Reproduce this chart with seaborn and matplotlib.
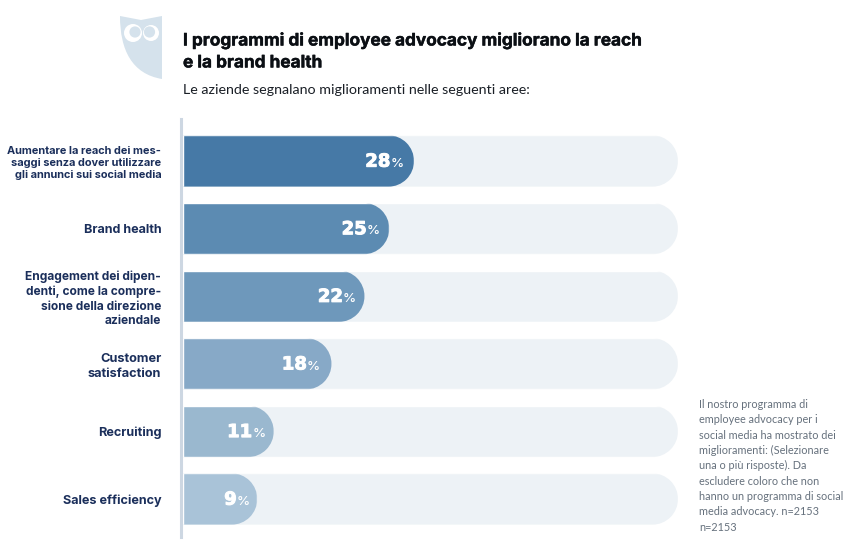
import matplotlib
matplotlib.use("Agg")
import matplotlib.pyplot as plt
import matplotlib.patheffects as pe
import seaborn as sns
import pandas as pd
from matplotlib.patches import PathPatch, Circle, Polygon
from matplotlib.path import Path
from matplotlib.transforms import IdentityTransform, Affine2D

categories = [
    "Aumentare la reach dei mes-\nsaggi senza dover utilizzare\ngli annunci sui social media",
    "Brand health",
    "Engagement dei dipen-\ndenti, come la compre-\nsione della direzione\naziendale",
    "Customer\nsatisfaction",
    "Recruiting",
    "Sales efficiency",
]
values = [28, 25, 22, 18, 11, 9]
track_values = [60, 60, 60, 60, 60, 60]
bar_colors = ["#4679A6", "#5C8BB2", "#6E98BB", "#87A9C7", "#9AB8CF", "#A9C3D8"]
label_sizes = [7.9, 9.1, 8.6, 9.2, 9.1, 9.1]
label_shift_pt = [0, 0.7, 1.4, -0.7, 1.4, 2.2]
title = "I programmi di employee advocacy migliorano la reach\ne la brand health"
subtitle = "Le aziende segnalano miglioramenti nelle seguenti aree:"
note = ("Il nostro programma di\nemployee advocacy per i\nsocial media ha mostrato dei\n"
        "miglioramenti: (Selezionare\nuna o più risposte). Da\nescludere coloro che non\n"
        "hanno un programma di social\nmedia advocacy. n=2153\nn=2153")

W, H = 859, 551
sns.set_theme(style="white")
fig = plt.figure(figsize=(W / 100, H / 100), dpi=100, facecolor="white")
ax = fig.add_axes([183 / W, 1 - 537 / H, (678 - 183) / W, (537 - 119) / H])

df = pd.DataFrame({"cat": categories, "val": values, "track": track_values})
sns.barplot(data=df, y="cat", x="track", order=categories, color="#EDF2F6",
            saturation=1, width=0.76, ax=ax, zorder=1)
sns.barplot(data=df, y="cat", x="val", order=categories, hue="cat", hue_order=categories,
            palette=bar_colors, saturation=1, width=0.76, legend=False, ax=ax, zorder=2)
ax.set_xlim(0, 60)
ax.set_ylim((536.5 - 160.5) / 67.6, -(160.5 - 118.5) / 67.6)
ax.set_xlabel("")
ax.set_ylabel("")
ax.set_xticks([])
sns.despine(ax=ax, top=True, right=True, bottom=True)
ax.spines["left"].set_position(("outward", 1.1))
ax.spines["left"].set_color("#CDD7E2")
ax.spines["left"].set_linewidth(2.2)
ax.tick_params(axis="y", length=0, pad=14.5)
for t, s in zip(ax.get_yticklabels(), label_sizes):
    t.set_fontfamily("Inter")
    t.set_fontweight("bold")
    t.set_fontsize(s)
    t.set_color("#1B2F5B")
    t.set_multialignment("right")
    t.set_linespacing(1.27)

# round the right-hand end of every bar with a true half circle
fig.canvas.draw()
for bar in ax.patches:
    bb = bar.get_window_extent()
    if bb.width <= 0:
        continue
    r = bb.height / 2
    cx, cy = bb.x1 - r, bb.y0 + r
    arc = Path.arc(-90, 90).transformed(Affine2D().scale(r).translate(cx, cy))
    verts = [(bb.x0 - 5, bb.y0)] + list(arc.vertices) + [(bb.x0 - 5, bb.y1), (bb.x0 - 5, bb.y0)]
    codes = [Path.MOVETO, Path.LINETO] + list(arc.codes[1:]) + [Path.LINETO, Path.CLOSEPOLY]
    clip = PathPatch(Path(verts, codes), transform=IdentityTransform())
    bar.set_clip_path(clip)

# value labels
heavy = [pe.withStroke(linewidth=0.7, foreground="white")]
for cat_i, (v, dx) in enumerate(zip(values, label_shift_pt)):
    ax.annotate(f"{v}", (v, cat_i), xytext=(-17 + dx, -0.5), textcoords="offset points",
                ha="right", va="center", color="white", fontsize=13,
                family="DejaVu Sans", fontweight="bold", zorder=3, path_effects=heavy)
    ax.annotate("%", (v, cat_i), xytext=(-7.5 + dx, -2), textcoords="offset points",
                ha="right", va="center", color="white", fontsize=9.5,
                family="Inter", fontweight="medium", zorder=3)

def T(x, y, s, **kw):
    fig.text(x / W, 1 - y / H, s, **kw)

T(183, 32, title, family="Inter", fontweight="bold", fontsize=12.4, color="#0B0F14",
  va="top", linespacing=1.38, path_effects=[pe.withStroke(linewidth=0.3, foreground="#0B0F14")])
T(183, 84, subtitle, family="Lato", fontsize=10.3, color="#1A1F26", va="top")
T(699, 399, note, family="Lato", fontsize=7.85, color="#66717D", va="top", linespacing=1.48)

# owl logo in pixel coordinates
logo = fig.add_axes([0, 0, 1, 1], zorder=5)
logo.set_xlim(0, W)
logo.set_ylim(H, 0)
logo.axis("off")
logo.patch.set_alpha(0)
owl = "#D5E2EC"
verts = [(120, 16), (141, 20), (162, 16), (162, 79),
         (132, 74), (120, 50), (120, 16), (120, 16)]
codes = [Path.MOVETO, Path.LINETO, Path.LINETO, Path.LINETO,
         Path.CURVE4, Path.CURVE4, Path.CURVE4, Path.CLOSEPOLY]
logo.add_patch(PathPatch(Path(verts, codes), fc=owl, ec="none"))
for cx, off in ((133, 2), (151, -1.5)):
    logo.add_patch(Circle((cx, 33), 9 if cx < 140 else 8, fc="white", ec="none"))
    logo.add_patch(Circle((cx + off, 32), 5.6, fc=owl, ec="none"))
logo.add_patch(Polygon([(139, 39), (145, 39), (142, 45)], fc=owl, ec="none"))

fig.savefig("out.png", dpi=100, facecolor="white")
